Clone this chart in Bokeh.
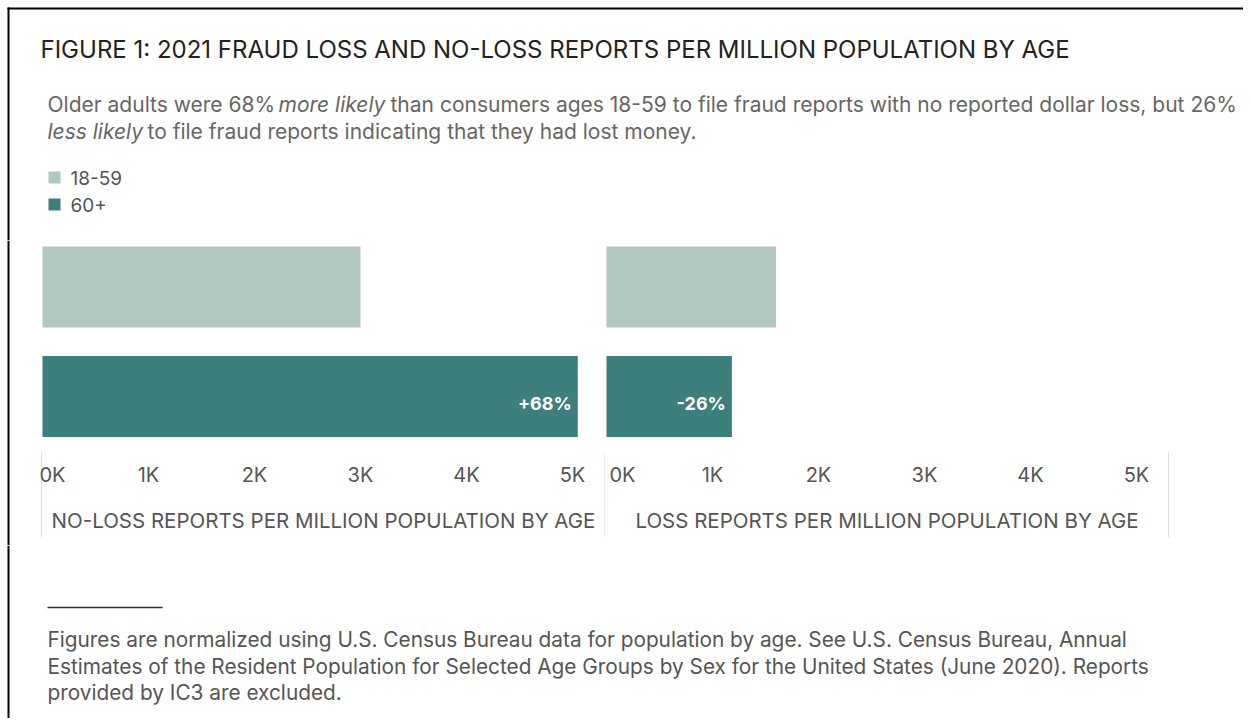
from bokeh.plotting import figure
from bokeh.layouts import column, row
from bokeh.models import Range1d, FixedTicker, LinearAxis, Span
from bokeh.core.properties import value
from bokeh.embed import file_html
from bokeh.resources import INLINE

# ---------------- data ----------------
title_text = "FIGURE 1: 2021 FRAUD LOSS AND NO-LOSS REPORTS PER MILLION POPULATION BY AGE"
subtitle_line1 = ["Older adults were 68%", "more likely",
                  "than consumers ages 18-59 to file fraud reports with no reported dollar loss, but 26%"]
subtitle_line1_styles = ["normal", "italic", "normal"]
subtitle_line2 = ["less likely", "to file fraud reports indicating that they had lost money."]
subtitle_line2_styles = ["italic", "normal"]
age_groups = ["18-59", "60+"]
no_loss_reports = [3000, 5050]
loss_reports = [1600, 1183]
change_labels = ["+68%", "-26%"]
tick_values = [0, 1000, 2000, 3000, 4000, 5000]
tick_labels = ["0K", "1K", "2K", "3K", "4K", "5K"]
axis_titles = ["NO-LOSS REPORTS PER MILLION POPULATION BY AGE",
               "LOSS REPORTS PER MILLION POPULATION BY AGE"]
footnote_lines = [
    "Figures are normalized using U.S. Census Bureau data for population by age. See U.S. Census Bureau, Annual",
    "Estimates of the Resident Population for Selected Age Groups by Sex for the United States (June 2020). Reports",
    "provided by IC3 are excluded.",
]
colors = ["#b1c8c0", "#3d7f7c"]

# ---------------- layout / style constants ----------------
FONT = "Inter"
W = 1243
HEAD_H, BAR_H, FOOT_H = 240, 305, 173
BORDER_X = 8                  # black frame line (px from the left / top)
PX_PER_UNIT = 0.1060          # horizontal scale (px per report)
LEFT_W = 605
RIGHT_W = W - LEFT_W
LEFT_ZERO, RIGHT_ZERO = 42, 1  # px of the zero line inside each panel canvas
ROW_PX = 109.5                # px between bar centres
FIRST_ROW_PX = 46.5           # px from panel top to first bar centre
BAR_PX = 81                   # bar thickness px
AXIS_PX = 212                 # px from panel top to axis area top
SEP_END_PX = 297              # px from panel top to separator bottom
AXIS_TITLE_PX = 280           # px from panel top to axis title centre
GREY = "#555555"
SUB_SIZE = "21px"


def text_fig(height, border_from=0):
    p = figure(width=W, height=height, x_range=Range1d(0, W), y_range=Range1d(height, 0),
               output_backend="svg", toolbar_location=None, min_border=0,
               x_axis_location=None, y_axis_location=None)
    p.grid.visible = False
    p.outline_line_color = None
    p.background_fill_color = "white"
    p.border_fill_color = "white"
    p.segment(x0=[BORDER_X], y0=[border_from], x1=[BORDER_X], y1=[height],
              line_color="black", line_width=2)
    return p


# ---------------- header ----------------
head = text_fig(HEAD_H, border_from=BORDER_X - 1)
head.segment(x0=[BORDER_X - 1], y0=[BORDER_X], x1=[W], y1=[BORDER_X], line_color="black",
             line_width=2)
head.text(x=[40], y=[49], text=[title_text], text_font=value(FONT), text_font_size="24px",
          text_color="#222222", text_baseline="middle")

line1_x = [47, 278, 390]
for t, s, x in zip(subtitle_line1, subtitle_line1_styles, line1_x):
    head.text(x=[x], y=[104], text=[t], text_font=value(FONT), text_font_size=SUB_SIZE,
              text_font_style=s, text_color="#666666", text_baseline="middle")
line2_x = [47, 147]
for t, s, x in zip(subtitle_line2, subtitle_line2_styles, line2_x):
    head.text(x=[x], y=[131], text=[t], text_font=value(FONT), text_font_size=SUB_SIZE,
              text_font_style=s, text_color="#666666", text_baseline="middle")

leg_y = [177 + 27 * i for i in range(len(age_groups))]
head.scatter(x=[54] * len(age_groups), y=leg_y, marker="square", size=12,
             fill_color=colors, line_color=None)
head.text(x=[70] * len(age_groups), y=leg_y, text=age_groups, text_font=value(FONT),
          text_font_size="19px", text_color=GREY, text_baseline="middle")


# ---------------- bar panels ----------------
def make_panel(values, width, zero_px, axis_title, change_label, seps_px, panel_px, nudge_px,
               border):
    x0 = -zero_px / PX_PER_UNIT
    x1 = x0 + width / PX_PER_UNIT
    ytop = -FIRST_ROW_PX / ROW_PX
    ybot = ytop + BAR_H / ROW_PX
    p = figure(width=width, height=BAR_H, x_range=Range1d(x0, x1), y_range=Range1d(ybot, ytop),
               output_backend="svg", toolbar_location=None, min_border=0,
               x_axis_location=None, y_axis_location=None)
    p.grid.visible = False
    p.outline_line_color = None
    p.background_fill_color = "white"
    p.border_fill_color = "white"

    ys = list(range(len(age_groups)))
    p.hbar(y=ys, left=0, right=values, height=BAR_PX / ROW_PX, fill_color=colors, line_color=None)
    p.text(x=[values[-1]], y=[ys[-1]], text=[change_label], text_font=value(FONT),
           text_font_size="18px", text_font_style="bold", text_color="white",
           text_align="right", text_baseline="middle", x_offset=-6, y_offset=7)

    axis_y = ytop + AXIS_PX / ROW_PX
    sep_y = ytop + SEP_END_PX / ROW_PX
    sep_x = [x0 + s / PX_PER_UNIT for s in seps_px]
    p.segment(x0=sep_x, y0=[axis_y] * len(sep_x), x1=sep_x, y1=[sep_y] * len(sep_x),
              line_color="#dddddd", line_width=1)

    # Tableau keeps the first label inside the panel: shift its anchor slightly inward
    ticks = [tick_values[0] + nudge_px / PX_PER_UNIT] + tick_values[1:]
    ax = LinearAxis(ticker=FixedTicker(ticks=ticks),
                    major_label_overrides={t: lab for t, lab in zip(ticks, tick_labels)},
                    fixed_location=axis_y)
    ax.axis_line_color = None
    ax.major_tick_line_color = None
    ax.minor_tick_line_color = None
    ax.major_label_standoff = 4
    ax.major_label_text_font = FONT
    ax.major_label_text_font_size = "20px"
    ax.major_label_text_color = GREY
    p.add_layout(ax, "below")

    centre = x0 + (panel_px[0] + panel_px[1]) / 2 / PX_PER_UNIT
    p.text(x=[centre], y=[ytop + AXIS_TITLE_PX / ROW_PX], text=[axis_title],
           text_font=value(FONT), text_font_size="20.5px", text_color=GREY,
           text_align="center", text_baseline="middle")

    if border:
        p.add_layout(Span(location=x0 + BORDER_X / PX_PER_UNIT, dimension="height",
                          line_color="black", line_width=2))
    return p


left = make_panel(no_loss_reports, LEFT_W, LEFT_ZERO, axis_titles[0], change_labels[0],
                  seps_px=[41, 604.5], panel_px=(41, 605), nudge_px=10, border=True)
right = make_panel(loss_reports, RIGHT_W, RIGHT_ZERO, axis_titles[1], change_labels[1],
                   seps_px=[563], panel_px=(0, 563), nudge_px=16, border=False)

# ---------------- footer ----------------
foot = text_fig(FOOT_H)
foot.segment(x0=[47], y0=[62], x1=[162], y1=[62], line_color="#333333", line_width=1.5)
foot.text(x=[47] * len(footnote_lines), y=[94 + 26.5 * i for i in range(len(footnote_lines))],
          text=footnote_lines, text_font=value(FONT), text_font_size="20.8px",
          text_color=GREY, text_baseline="middle")

layout = column(head, row(left, right), foot)
open("out.html", "w").write(file_html(layout, INLINE))
